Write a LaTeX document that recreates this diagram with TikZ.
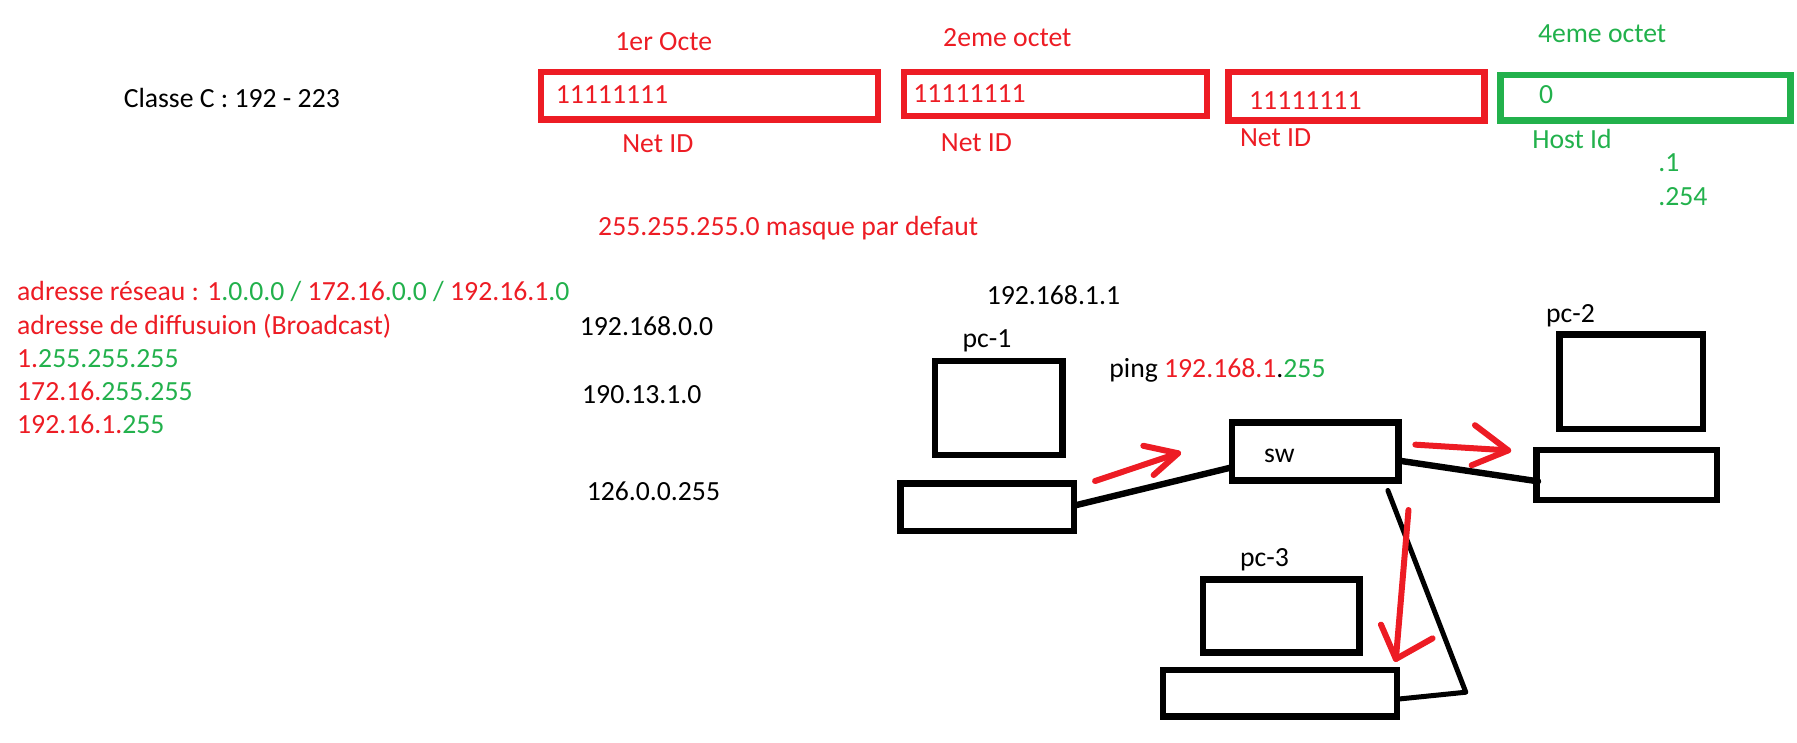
\documentclass[tikz,border=0pt]{standalone}
\usepackage{fontspec}
\setmainfont{Carlito}
\definecolor{redc}{RGB}{237,28,36}
\definecolor{greenc}{RGB}{34,177,76}
\newcommand{\R}[1]{\textcolor{redc}{#1}}
\newcommand{\G}[1]{\textcolor{greenc}{#1}}
\newcommand{\mybox}[6]{%
  \pgfmathsetmacro{\cxx}{(#3+#5)/2}\pgfmathsetmacro{\cyy}{(#4+#6)/2}%
  \pgfmathsetmacro{\wdd}{(#5-#3-5.6)*1.146}\pgfmathsetmacro{\htt}{(#6-#4-5.6)*1.146}%
  \node[boxbase,#1,minimum width=\wdd pt,minimum height=\htt pt] (#2) at (\cxx,\cyy) {};}
\tikzset{
  boxbase/.style={draw,rectangle,inner sep=0pt,outer sep=0pt,line width=6.4pt,miter limit=10},
  redbox/.style={draw=redc},
  greenbox/.style={draw=greenc},
  blackbox/.style={draw=black},
  txt/.style={anchor=mid west,inner sep=0pt,outer sep=0pt,yshift=-6.2pt,font=\fontsize{27.7}{33}\selectfont},
  redtxt/.style={txt,text=redc},
  greentxt/.style={txt,text=greenc},
  blacktxt/.style={txt,text=black},
  link/.style={draw=black,line width=6.4pt,line cap=round,line join=round},
  thinlink/.style={link,line width=5pt},
  flow/.style={draw=redc,line width=6pt,line cap=round,line join=miter},
}
\begin{document}
\begin{tikzpicture}[x=1.146pt,y=-1.146pt]
\useasboundingbox (0,0) rectangle (1568,648.3);
% octet boxes
\mybox{redbox}{o1}{469}{60.2}{769}{107}
\mybox{redbox}{o2}{786}{60.2}{1056}{104}
\mybox{redbox}{o3}{1069}{60}{1298}{108}
\mybox{greenbox}{o4}{1306.6}{62.5}{1565}{108}
% top texts
\node[blacktxt] (cl) at (108,86) {Classe C : 192 - 223};
\node[redtxt] (h1) at (537,37) {1er Octe};
\node[redtxt] (h2) at (823,33) {2eme octet};
\node[greentxt] (h4) at (1342,30) {4eme octet};
\node[redtxt] (b1) at (485,83) {11111111};
\node[redtxt] (b2) at (797,82) {11111111};
\node[redtxt] (b3) at (1090,88) {11111111};
\node[greentxt] (b4) at (1343,83) {0};
\node[redtxt] (n1) at (543,126) {Net ID};
\node[redtxt] (n2) at (821,125) {Net ID};
\node[redtxt] (n3) at (1082,120) {Net ID};
\node[greentxt] (n4) at (1337,122) {Host Id};
\node[greentxt] (r1) at (1447,142) {.1};
\node[greentxt] (r2) at (1447,172) {.254};
\node[redtxt] (mask) at (522,198) {255.255.255.0 masque par defaut};
% left list
\node[txt] (l1) at (15,255) {\R{adresse réseau : 1}\G{.0.0.0} \G{/} \R{172.16}\G{.0.0} \G{/} \R{192.16.1}\G{.0}};
\node[redtxt] (l2) at (15,284) {adresse de diffusuion (Broadcast)};
\node[txt] (l3) at (15,313) {\R{1.}\G{255.255.255}};
\node[txt] (l4) at (15,342) {\R{172.16.}\G{255.255}};
\node[txt] (l5) at (15,371) {\R{192.16.1.}\G{255}};
\node[blacktxt] (a1) at (506,285) {192.168.0.0};
\node[blacktxt] (a2) at (508,345) {190.13.1.0};
\node[blacktxt] (a3) at (512,429) {126.0.0.255};
% network
\node[blacktxt] (ip) at (861,258) {192.168.1.1};
\node[blacktxt] (p1) at (840,296) {pc-1};
\node[blacktxt] (p2) at (1349,274) {pc-2};
\node[blacktxt] (p3) at (1082,487) {pc-3};
\node[txt] (ping) at (968,322) {ping \R{192.168.1}.\G{255}};
\node[blacktxt] (swt) at (1103,396) {sw};
\mybox{blackbox}{m1}{813}{312}{930}{400}
\mybox{blackbox}{c1}{783}{419}{940}{466}
\mybox{blackbox}{sw}{1072}{366}{1223}{422}
\mybox{blackbox}{m2}{1358}{289}{1489}{377}
\mybox{blackbox}{c2}{1338}{390}{1501}{439}
\mybox{blackbox}{m3}{1047}{503}{1189}{572}
\mybox{blackbox}{c3}{1012}{582}{1222}{628}
% links
\coordinate (c1p) at (938,441);
\coordinate (swa) at (1074,408);
\coordinate (swb) at (1221,402);
\coordinate (c2p) at (1342,420);
\coordinate (swc) at (1211,428);
\coordinate (elb) at (1279,604);
\coordinate (c3p) at (1220,610);
\draw[link] (c1p) -- (swa);
\draw[link] (swb) -- (c2p);
\draw[thinlink] (swc) -- (elb) -- (c3p);
% red arrows
\coordinate (f1s) at (955.5,419.7); \coordinate (f1t) at (1028,395.5);
\coordinate (f1u) at (997.6,389); \coordinate (f1v) at (1006.6,414.5);
\coordinate (f2s) at (1235,388); \coordinate (f2t) at (1316,393);
\coordinate (f2u) at (1287,371); \coordinate (f2v) at (1284,406);
\coordinate (f3s) at (1229,445); \coordinate (f3t) at (1218,575);
\coordinate (f3u) at (1205,545); \coordinate (f3v) at (1250,557);
\draw[flow] (f1s) -- (f1t); \draw[flow,line join=round] (f1u) -- (f1t) -- (f1v);
\draw[flow] (f2s) -- (f2t); \draw[flow,line join=round] (f2u) -- (f2t) -- (f2v);
\draw[flow] (f3s) -- (f3t); \draw[flow,line join=round] (f3u) -- (f3t) -- (f3v);
\end{tikzpicture}
\end{document}
